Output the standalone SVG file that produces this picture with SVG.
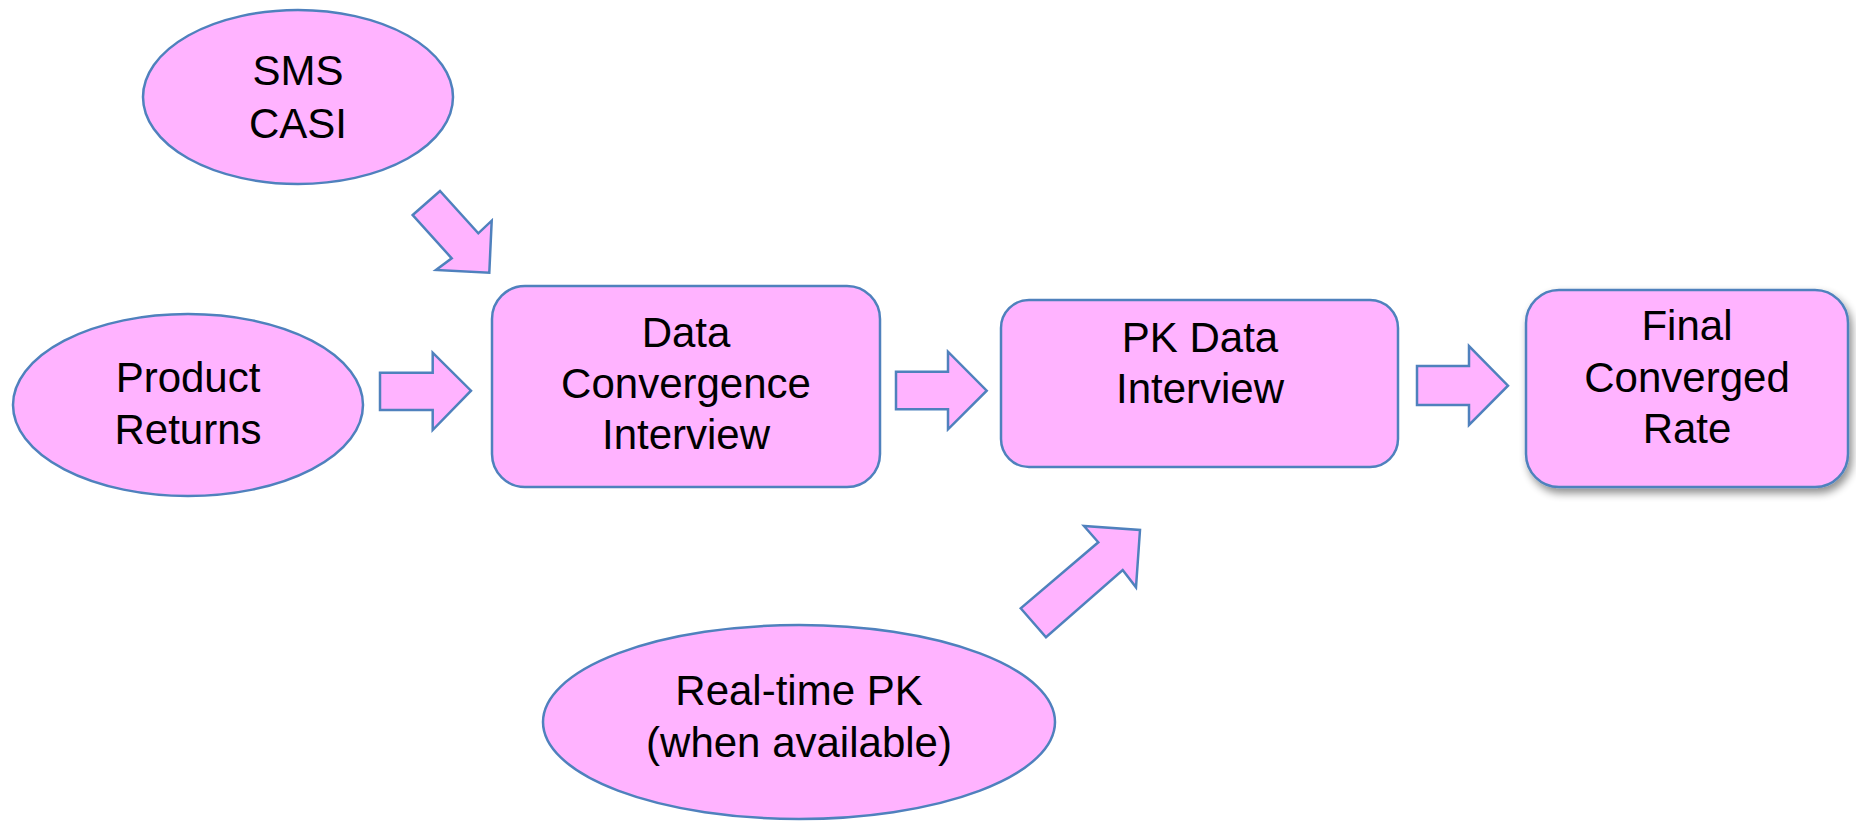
<svg xmlns="http://www.w3.org/2000/svg" width="1856" height="825" viewBox="0 0 1856 825">
<defs>
<filter id="shadow" x="-10%" y="-10%" width="130%" height="130%">
<feGaussianBlur in="SourceAlpha" stdDeviation="4"/>
<feOffset dx="3" dy="5" result="b"/>
<feComponentTransfer><feFuncA type="linear" slope="0.45"/></feComponentTransfer>
<feMerge><feMergeNode/><feMergeNode in="SourceGraphic"/></feMerge>
</filter>
</defs>
<style>
.shape{fill:#FFB3FF;stroke:#4F81BD;stroke-width:2.5;stroke-linejoin:miter}
.arrow{fill:#FFB3FF;stroke:#4F81BD;stroke-width:2.5;stroke-linejoin:miter}
.label{font-family:"Liberation Sans",Arial,sans-serif;font-size:42px;fill:#000;text-anchor:middle}
</style>
<rect width="1856" height="825" fill="#FFFFFF"/>
<g id="sms-casi">
<ellipse class="shape" cx="298" cy="97" rx="155" ry="87"/>
<text class="label" x="298" y="85">SMS</text>
<text class="label" x="298" y="138">CASI</text>
</g>
<g id="product-returns">
<ellipse class="shape" cx="188" cy="405" rx="175" ry="91"/>
<text class="label" x="188" y="392">Product</text>
<text class="label" x="188" y="444">Returns</text>
</g>
<g id="data-convergence-interview">
<rect class="shape" x="492" y="286" width="388" height="201" rx="33" ry="33"/>
<text class="label" x="686" y="347">Data</text>
<text class="label" x="686" y="398">Convergence</text>
<text class="label" x="686" y="449">Interview</text>
</g>
<g id="pk-data-interview">
<rect class="shape" x="1001" y="300" width="397" height="167" rx="28" ry="28"/>
<text class="label" x="1200" y="352">PK Data</text>
<text class="label" x="1200" y="403">Interview</text>
</g>
<g id="final-converged-rate">
<rect class="shape" x="1526" y="290" width="322" height="197" rx="33" ry="33" filter="url(#shadow)"/>
<text class="label" x="1687" y="340">Final</text>
<text class="label" x="1687" y="392">Converged</text>
<text class="label" x="1687" y="443">Rate</text>
</g>
<g id="real-time-pk">
<ellipse class="shape" cx="799" cy="722" rx="256" ry="97"/>
<text class="label" x="799" y="705">Real-time PK</text>
<text class="label" x="799" y="757">(when available)</text>
</g>
<g id="connectors">
<polygon class="arrow" points="412.7,215 440,191 478.3,233.3 491.7,220.7 489.3,272.7 436,270 451.7,258.3"/>
<polygon class="arrow" points="380,372.7 432.7,372.7 432.7,352.7 471,390.7 432.7,430 432.7,410 380,410"/>
<polygon class="arrow" points="896,371.7 948,371.7 948,351.7 986.7,390.7 948,429.3 948,409.3 896,409.3"/>
<polygon class="arrow" points="1417,366 1469,366 1469,346 1508,385.7 1469,425 1469,405 1417,405"/>
<polygon class="arrow" points="1020.7,608.3 1046,637.3 1122.7,570 1136,587.3 1140,530 1084,526 1098.3,542.3"/>
</g>
</svg>
